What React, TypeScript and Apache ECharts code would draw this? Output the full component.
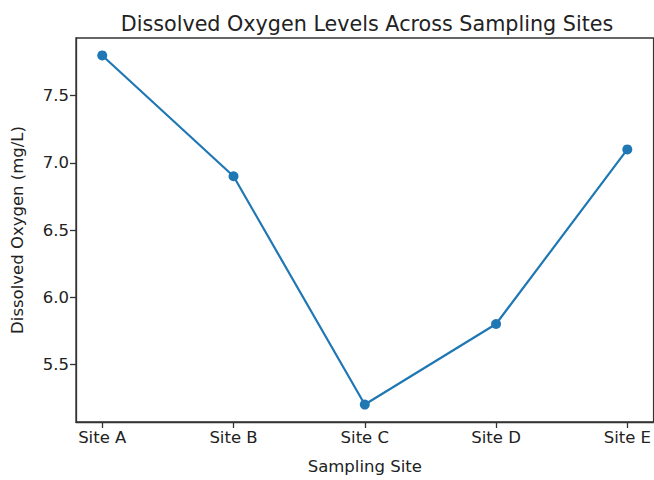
import React, { useEffect, useRef } from "react";
import * as echarts from "echarts";

const categories = ["Site A", "Site B", "Site C", "Site D", "Site E"];
const oxygen = [7.8, 6.9, 5.2, 5.8, 7.1];
const yTicks = [5.5, 6.0, 6.5, 7.0, 7.5];
const xTicks = [0, 1, 2, 3, 4];

const FONT = "DejaVu Sans";

export default function App() {
  const ref = useRef<HTMLDivElement>(null);
  useEffect(() => {
    if (!ref.current) return;
    const chart = echarts.init(ref.current, undefined, { renderer: "svg" });
    chart.setOption({
      animation: false,
      backgroundColor: "#ffffff",
      textStyle: { fontFamily: FONT },
      title: {
        text: "Dissolved Oxygen Levels Across Sampling Sites",
        left: 362,
        textAlign: "center",
        top: 8,
        textStyle: { fontFamily: FONT, fontSize: 20.7, fontWeight: "normal", color: "#222" },
      },
      grid: {
        left: 76,
        right: -1,
        top: 38,
        bottom: 58,
        show: true,
        borderColor: "#333",
        borderWidth: 1.3,
      },
      xAxis: {
        type: "value",
        min: -0.2,
        max: 4.2,
        name: "Sampling Site",
        nameLocation: "middle",
        nameGap: 36,
        nameTextStyle: { fontFamily: FONT, fontSize: 16.5, color: "#222" },
        axisLine: { show: true, onZero: false, lineStyle: { color: "#333", width: 1.3 } },
        axisTick: { show: true, customValues: xTicks, length: 6, lineStyle: { color: "#333", width: 1.3 } },
        axisLabel: {
          customValues: xTicks,
          formatter: (v: number) => categories[Math.round(v)] ?? "",
          fontFamily: FONT,
          fontSize: 16.5,
          color: "#222",
          margin: 7,
        },
        splitLine: { show: false },
      },
      yAxis: {
        type: "value",
        min: 5.07,
        max: 7.93,
        name: "Dissolved Oxygen (mg/L)",
        nameLocation: "middle",
        nameGap: 50,
        nameTextStyle: { fontFamily: FONT, fontSize: 16.5, color: "#222" },
        axisLine: { show: true, onZero: false, lineStyle: { color: "#333", width: 1.3 } },
        axisTick: { show: true, customValues: yTicks, length: 6, lineStyle: { color: "#333", width: 1.3 } },
        axisLabel: {
          customValues: yTicks,
          formatter: (v: number) => v.toFixed(1),
          fontFamily: FONT,
          fontSize: 16.5,
          color: "#222",
          margin: 7,
        },
        splitLine: { show: false },
      },
      series: [
        {
          type: "line",
          data: oxygen.map((v, i) => [i, v]),
          symbol: "circle",
          symbolSize: 10,
          itemStyle: { color: "#1f77b4" },
          lineStyle: { color: "#1f77b4", width: 2.2 },
        },
      ],
    });
    return () => chart.dispose();
  }, []);
  return (
    <div
      ref={ref}
      style={{ position: "absolute", left: 0, top: 0, width: 654, height: 480 }}
    />
  );
}
